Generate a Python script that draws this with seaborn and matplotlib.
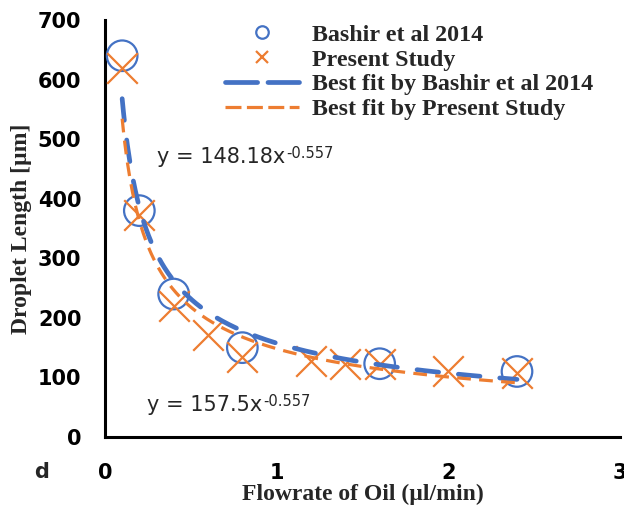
import numpy as np
import pandas as pd
import matplotlib
matplotlib.use("Agg")
import matplotlib.pyplot as plt
from matplotlib.lines import Line2D
import seaborn as sns

# Measured droplet lengths
bashir_flow = [0.1, 0.2, 0.4, 0.8, 1.6, 2.4]
bashir_len = [640, 380, 240, 150, 123, 110]
present_flow = [0.1, 0.2, 0.4, 0.6, 0.8, 1.2, 1.4, 1.6, 2.0, 2.4]
present_len = [620, 373, 220, 172, 135, 127, 123, 122, 111, 107]

# Power-law fits y = a * x^b
bashir_fit = (157.5, -0.557)
present_fit = (148.18, -0.557)
fit_range = (0.1, 2.4)

x_ticks = [0, 1, 2, 3]
y_ticks = [0, 100, 200, 300, 400, 500, 600, 700]

BLUE = "#4472C4"
ORANGE = "#ED7D31"

sns.set_theme(style="white")
plt.rcParams["font.family"] = ["DejaVu Sans"]

fig = plt.figure(figsize=(6.24, 5.07), dpi=100)
ax = fig.add_axes([105 / 624, 1 - 437 / 507, 515 / 624, 417 / 507])

df_b = pd.DataFrame({"flow": bashir_flow, "length": bashir_len})
df_p = pd.DataFrame({"flow": present_flow, "length": present_len})

sns.scatterplot(data=df_b, x="flow", y="length", ax=ax, marker="o",
                s=22 ** 2, facecolor="none", edgecolor=BLUE, linewidth=1.6,
                zorder=3, legend=False)
sns.scatterplot(data=df_p, x="flow", y="length", ax=ax, marker="x",
                s=22 ** 2, color=ORANGE, linewidth=1.6, zorder=4, legend=False)

xf = np.linspace(fit_range[0], fit_range[1], 300)
fb = pd.DataFrame({"flow": xf, "length": bashir_fit[0] * xf ** bashir_fit[1]})
fp = pd.DataFrame({"flow": xf, "length": present_fit[0] * xf ** present_fit[1]})

sns.lineplot(data=fb, x="flow", y="length", ax=ax, color=BLUE, linewidth=3.4,
             zorder=5, legend=False)
lb = ax.lines[-1]
lb.set_dashes((4.6, 4.2))
lb.set_dash_capstyle("round")
sns.lineplot(data=fp, x="flow", y="length", ax=ax, color=ORANGE, linewidth=2.3,
             zorder=6, legend=False)
lp = ax.lines[-1]
lp.set_dashes((4.3, 2.6))

ax.set_xlim(0, 3)
ax.set_ylim(0, 700)
ax.set_xticks(x_ticks)
ax.set_yticks(y_ticks)
ax.set_xticklabels([str(v) for v in x_ticks], fontsize=15, fontweight="bold")
ax.set_yticklabels([str(v) for v in y_ticks], fontsize=15, fontweight="bold")
ax.tick_params(axis="x", direction="in", length=7, width=1.8, pad=19, colors="black")
ax.tick_params(axis="y", direction="in", length=5, width=1.8, pad=17, colors="black")

for side in ["top", "right"]:
    ax.spines[side].set_visible(False)
for side in ["left", "bottom"]:
    ax.spines[side].set_color("black")
    ax.spines[side].set_linewidth(2.2)

serif = {"family": "Liberation Serif", "weight": "bold", "size": 17}
ax.set_xlabel("Flowrate of Oil (µl/min)", fontdict=serif, labelpad=0)
ax.set_ylabel("Droplet Length [µm]", fontdict=serif, labelpad=4)


def fit_label(a, b, x_px, y_px):
    """Trendline equation with a raised exponent."""
    main = fig.text(x_px / 624, 1 - y_px / 507, f"y = {a}x", fontsize=15,
                    va="center", ha="left")
    ax.annotate(f"{b}", xy=(1.0, 1.0), xycoords=main, xytext=(0.5, 1),
                textcoords="offset points", fontsize=10.5, ha="left", va="top")


fit_label(present_fit[0], present_fit[1], 157, 157)
fit_label(bashir_fit[0], bashir_fit[1], 147, 405)

fig.text(42 / 624, 1 - 472 / 507, "d", fontsize=15, fontweight="bold",
         ha="center", va="center")

handles = [
    Line2D([], [], linestyle="none", marker="o", markersize=9,
           markerfacecolor="none", markeredgecolor=BLUE, markeredgewidth=1.6),
    Line2D([], [], linestyle="none", marker="x", markersize=9,
           color=ORANGE, markeredgewidth=1.6),
    Line2D([], [], color=BLUE, linewidth=3.4, dashes=(6.8, 2.2),
           dash_capstyle="round"),
    Line2D([], [], color=ORANGE, linewidth=2.3, dashes=(5, 1.7)),
]
labels = ["Bashir et al 2014", "Present Study",
          "Best fit by Bashir et al 2014", "Best fit by Present Study"]
fig.legend(handles, labels, loc="upper left",
           bbox_to_anchor=(225 / 624, 1 - 24 / 507),
           frameon=False, borderpad=0, borderaxespad=0, handlelength=3.1,
           handletextpad=0.5, labelspacing=0.12,
           prop={"family": "Liberation Serif", "weight": "bold", "size": 17.3})

fig.savefig("out.png", dpi=100)
